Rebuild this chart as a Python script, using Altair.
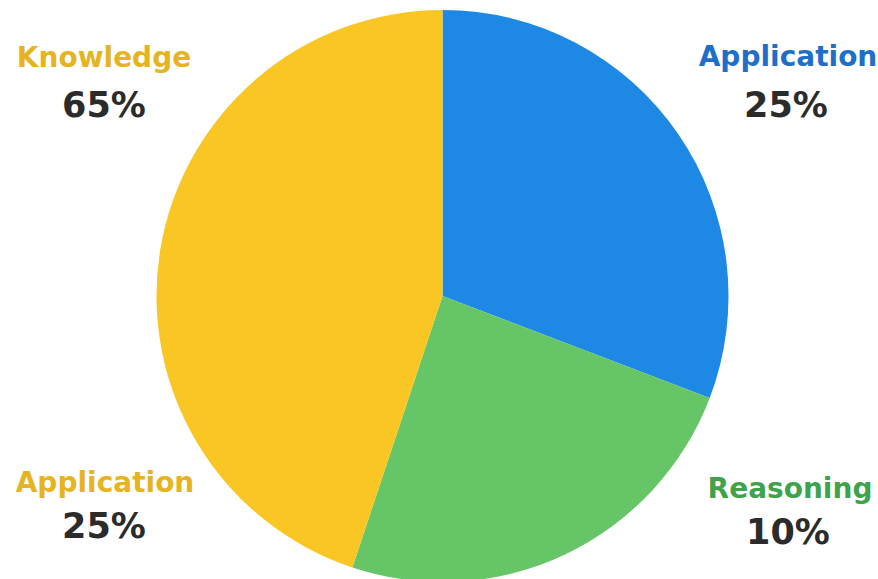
import altair as alt
import pandas as pd

# Pie slices (clockwise from 12 o'clock), shares
slices = ["Blue", "Green", "Yellow"]
shares = [30.8, 24.3, 44.9]
slice_colors = ["#1E88E5", "#66C667", "#FAC623"]

# Annotation labels as printed on the chart
label_names = ["Knowledge", "Application", "Application", "Reasoning"]
label_pcts = ["65%", "25%", "25%", "10%"]
label_colors = ["#E6B41E", "#1E6FC8", "#E6B41E", "#3FA34D"]

# Layout (pixel placement of annotations)
name_x = [104, 788, 105, 790]
name_y = [67, 66, 492, 498]
pct_x = [104, 786, 104, 788]
pct_y = [117, 117, 538, 544]

pie_df = pd.DataFrame({
    "slice": slices,
    "value": shares,
    "order": list(range(len(slices))),
})

lab_df = pd.DataFrame({
    "name": label_names,
    "pct": label_pcts,
    "tc": label_colors,
    "nx": name_x,
    "ny": name_y,
    "px": pct_x,
    "py": pct_y,
})

pie = alt.Chart(pie_df).mark_arc(radius=286, stroke=None).encode(
    theta=alt.Theta("value:Q", stack=True),
    color=alt.Color("slice:N", scale=alt.Scale(domain=slices, range=slice_colors), legend=None),
    order=alt.Order("order:Q"),
    x=alt.value(442.5),
    y=alt.value(296),
)

names = alt.Chart(lab_df).mark_text(
    font="DejaVu Sans", fontWeight="bold", fontSize=28, align="center", baseline="alphabetic"
).encode(
    x=alt.X("nx:Q", scale=None),
    y=alt.Y("ny:Q", scale=None),
    text="name:N",
    color=alt.Color("tc:N", scale=None),
)

pcts = alt.Chart(lab_df).mark_text(
    font="DejaVu Sans", fontWeight="bold", fontSize=35, align="center", baseline="alphabetic",
    color="#2B2B2B",
).encode(
    x=alt.X("px:Q", scale=None),
    y=alt.Y("py:Q", scale=None),
    text="pct:N",
)

chart = alt.layer(pie, names, pcts).properties(
    width=878, height=579, padding=0, autosize=alt.AutoSizeParams(type="none"),
    background="white",
).configure_view(stroke=None)

chart.save("out.html", embed_options={"renderer": "svg", "actions": False})
